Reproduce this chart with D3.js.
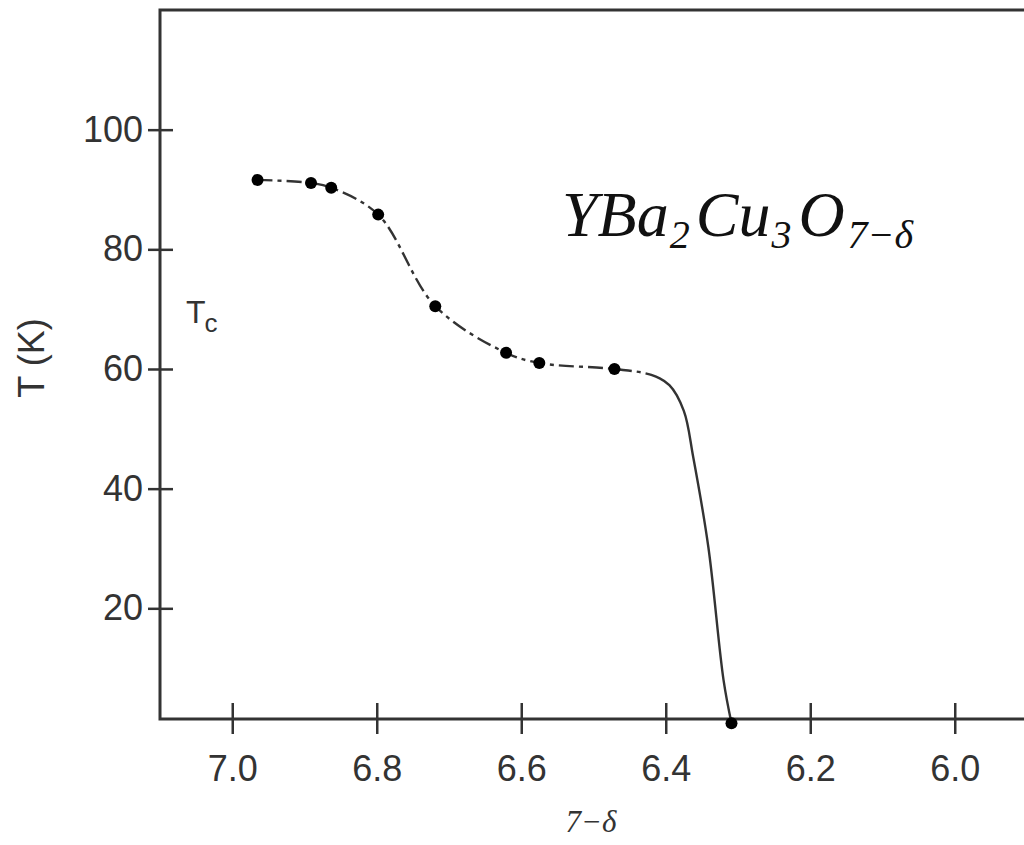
<!DOCTYPE html>
<html><head><meta charset="utf-8">
<script src="https://cdn.jsdelivr.net/npm/d3@7"></script>
<style>html,body{margin:0;padding:0;background:#fff;}</style>
</head><body>
<script>
// ---- data ----
const pointsX = [6.965, 6.891, 6.863, 6.798, 6.719, 6.621, 6.575, 6.471, 6.309];
const pointsT = [91.6, 91.1, 90.3, 85.8, 70.5, 62.7, 61.0, 60.0, 0.8];
// curve nodes (smooth line drawn through the data)
const curveX = [6.965, 6.891, 6.863, 6.798, 6.719, 6.621, 6.575, 6.471, 6.42, 6.395, 6.375, 6.362, 6.341, 6.320, 6.309];
const curveT = [91.6, 91.1, 90.3, 85.8, 70.5, 62.7, 61.0, 60.0, 59.0, 57.3, 53.0, 45.3, 30.2, 8.0, 0.8];
const solidFrom = 6.425;
const xTicks = [7.0, 6.8, 6.6, 6.4, 6.2, 6.0];
const yTicks = [20, 40, 60, 80, 100];

const W = 1024, H = 845;
const svg = d3.select("body").append("svg").attr("width", W).attr("height", H);
const x = d3.scaleLinear().domain([7.1, 5.9]).range([160, 1027]);
const y = d3.scaleLinear().domain([1.5, 120]).range([719, 10]);

const axisCol = "#333";
const sans = "Liberation Sans, Arial, sans-serif";
const serif = "Liberation Serif, Times New Roman, serif";
// frame
svg.append("rect").attr("x", 160).attr("y", 10).attr("width", 867).attr("height", 709)
  .attr("fill", "none").attr("stroke", axisCol).attr("stroke-width", 3);

const gx = svg.append("g").attr("transform", "translate(0,719)")
  .call(d3.axisBottom(x).tickValues(xTicks).tickFormat(d3.format(".1f")).tickSizeOuter(0).tickSize(16).tickPadding(20));
gx.select(".domain").remove();
gx.selectAll(".tick line").attr("y1", -16).attr("y2", 15).attr("stroke", axisCol).attr("stroke-width", 2.5);
gx.selectAll(".tick text").attr("font-family", sans).attr("font-size", 36).attr("fill", "#333");

const gy = svg.append("g").attr("transform", "translate(160,0)")
  .call(d3.axisLeft(y).tickValues(yTicks).tickSizeOuter(0).tickSize(12).tickPadding(5));
gy.select(".domain").remove();
gy.selectAll(".tick line").attr("x1", -12).attr("x2", 13).attr("stroke", axisCol).attr("stroke-width", 2.5);
gy.selectAll(".tick text").attr("font-family", sans).attr("font-size", 36).attr("fill", "#333");

// curve
const nodes = curveX.map((v, i) => [x(v), y(curveT[i])]);
const line = d3.line().curve(d3.curveCatmullRom.alpha(0.5));
const path = svg.append("path").attr("d", line(nodes)).attr("fill", "none")
  .attr("stroke", "#333").attr("stroke-width", 2.4);
const total = path.node().getTotalLength();
const targetX = x(solidFrom);
let lo = 0, hi = total;
for (let k = 0; k < 40; k++) { const m = (lo + hi) / 2; if (path.node().getPointAtLength(m).x < targetX) lo = m; else hi = m; }
const split = lo;
const pattern = [15, 5, 4, 5];
const dash = []; let acc = 0, pi = 0;
while (acc < split) { const v = pattern[pi % 4]; dash.push(v); acc += v; pi++; }
if (dash.length % 2 === 1) dash.push(0);
dash.push(total + 10, 0);
path.attr("stroke-dasharray", dash.join(" "));

// points
svg.append("g").selectAll("circle").data(pointsX).join("circle")
  .attr("cx", d => x(d)).attr("cy", (d, i) => y(pointsT[i])).attr("r", 6).attr("fill", "#000");

// labels
svg.append("text").attr("transform", "translate(44,358) rotate(-90)").attr("text-anchor", "middle")
  .attr("font-family", sans).attr("font-size", 36).attr("fill", "#333").text("T (K)");

const tc = svg.append("text").attr("x", 186).attr("y", 323)
  .attr("font-family", sans).attr("font-size", 32).attr("fill", "#333");
tc.append("tspan").text("T");
tc.append("tspan").attr("dy", 9).attr("dx", -1).attr("font-size", 26).text("c");

svg.append("text").attr("x", 591).attr("y", 832).attr("text-anchor", "middle")
  .attr("font-family", serif).attr("font-style", "italic")
  .attr("font-size", 31).attr("fill", "#333").text("7−δ");

const title = svg.append("text").attr("x", 562).attr("y", 236)
  .attr("font-family", serif).attr("font-style", "italic")
  .attr("font-size", 64).attr("fill", "#111");
const parts = [["YBa", 0, 0], ["2", 1, 1], ["Cu", 0, 6], ["3", 1, 1], ["O", 0, 7], ["7−δ", 1, 3]];
parts.forEach(([t, sub, dx]) => {
  title.append("tspan").attr("baseline-shift", sub ? "-30%" : "0")
    .attr("font-size", sub ? 40 : 64).attr("dx", dx).text(t);
});
</script>
</body></html>
